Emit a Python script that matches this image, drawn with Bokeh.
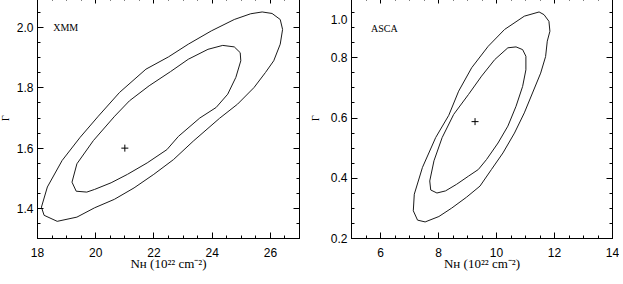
import numpy as np
from bokeh.plotting import figure
from bokeh.layouts import row
from bokeh.models import FixedTicker, LinearAxis, PrintfTickFormatter, Range1d
from bokeh.core.properties import value
from bokeh.embed import file_html
from bokeh.resources import INLINE

# ---------------- data ----------------
# XMM panel: N_H (1e22 cm^-2) vs photon index Gamma
xmm_outer_nh = [18.135, 18.339, 18.846, 19.466, 20.089, 20.820, 21.724, 22.502, 23.179, 23.968,
                24.760, 25.322, 25.718, 26.057, 26.338, 26.419, 26.338, 26.115, 25.830, 25.437,
                24.872, 24.253, 23.349, 22.672, 21.995, 21.318, 20.640, 19.963, 19.354, 18.677,
                18.227]
xmm_outer_g = [1.404, 1.471, 1.559, 1.636, 1.706, 1.785, 1.862, 1.903, 1.945, 1.989,
               2.027, 2.046, 2.052, 2.047, 2.027, 1.994, 1.945, 1.890, 1.851, 1.801,
               1.746, 1.699, 1.623, 1.562, 1.513, 1.468, 1.430, 1.402, 1.371, 1.357,
               1.377]
xmm_inner_nh = [19.185, 19.354, 19.919, 20.651, 21.158, 21.835, 22.570, 23.179, 23.856, 24.364,
                24.760, 24.963, 24.984, 24.814, 24.534, 24.137, 23.575, 22.841, 22.445, 21.768,
                21.091, 20.529, 19.963, 19.693, 19.330]
xmm_inner_g = [1.487, 1.548, 1.625, 1.706, 1.757, 1.807, 1.854, 1.895, 1.928, 1.941,
               1.936, 1.917, 1.890, 1.835, 1.779, 1.735, 1.700, 1.639, 1.595, 1.551,
               1.513, 1.485, 1.463, 1.454, 1.457]
xmm_best_nh = [21.0]
xmm_best_g = [1.60]

# ASCA panel
asca_outer_nh = [7.131, 7.165, 7.447, 7.902, 8.354, 8.694, 9.145, 9.713, 10.280, 10.959,
                 11.469, 11.639, 11.808, 11.842, 11.751, 11.693, 11.523, 11.241, 10.959, 10.620,
                 10.222, 9.825, 9.431, 8.965, 8.456, 8.014, 7.539, 7.277]
asca_outer_g = [0.292, 0.347, 0.436, 0.535, 0.609, 0.689, 0.767, 0.838, 0.894, 0.938,
                0.952, 0.943, 0.921, 0.888, 0.855, 0.804, 0.749, 0.683, 0.617, 0.550,
                0.484, 0.429, 0.374, 0.337, 0.301, 0.273, 0.255, 0.261]
asca_inner_nh = [7.732, 7.698, 7.844, 8.126, 8.524, 9.033, 9.485, 9.940, 10.392, 10.674,
                 10.901, 11.014, 11.014, 10.901, 10.674, 10.392, 10.052, 9.655, 9.373, 9.033,
                 8.626, 8.242, 7.946]
asca_inner_g = [0.361, 0.391, 0.458, 0.535, 0.612, 0.678, 0.739, 0.794, 0.833, 0.836,
                0.827, 0.805, 0.760, 0.705, 0.639, 0.573, 0.517, 0.462, 0.429, 0.407,
                0.380, 0.358, 0.351]
asca_best_nh = [9.26]
asca_best_g = [0.588]

# axes
xmm_xticks = [18, 20, 22, 24, 26]
xmm_yticks = [1.4, 1.6, 1.8, 2.0]
asca_xticks = [6, 8, 10, 12, 14]
asca_yticks = [0.2, 0.4, 0.6, 0.8, 1.0]
xmm_xrange = (18, 27)
xmm_yrange = (1.3, 2.1)
asca_xrange = (5, 14)
asca_yrange = (0.2, 1.0)
xmm_name = "XMM"
asca_name = "ASCA"
x_label = "N\u029C (10\u00b2\u00b2 cm\u207b\u00b2)"
y_label = "\u0393"

LINE = "#1a1a1a"
TICK_FONT = "Liberation Sans"
LABEL_FONT = "Liberation Serif"


def closed(a):
    return list(a) + [a[0]]


def panel(xr, yr, xt, yt, xminor, yminor, min_left, ylab_standoff, width):
    p = figure(width=width, height=284, output_backend="svg", toolbar_location=None,
               x_range=Range1d(*xr), y_range=Range1d(*yr),
               min_border_left=min_left, min_border_right=7,
               min_border_top=1, min_border_bottom=42)
    p.grid.visible = False
    p.outline_line_color = "black"
    p.outline_line_width = 1
    p.background_fill_color = "white"
    p.border_fill_color = "white"

    xtick = FixedTicker(ticks=xt, minor_ticks=xminor)
    ytick = FixedTicker(ticks=yt, minor_ticks=yminor)

    for ax, tk in ((p.xaxis[0], xtick), (p.yaxis[0], ytick)):
        ax.ticker = tk
        ax.major_tick_in = 6
        ax.major_tick_out = 0
        ax.minor_tick_in = 3
        ax.minor_tick_out = 0
        ax.major_tick_line_color = "black"
        ax.minor_tick_line_color = "black"
        ax.axis_line_color = "black"
        ax.major_label_text_font = TICK_FONT
        ax.major_label_text_font_size = "12px"
        ax.major_label_text_color = "black"
        ax.axis_label_text_font = LABEL_FONT
        ax.axis_label_text_font_style = "normal"
        ax.axis_label_text_color = "black"

    p.xaxis[0].formatter = PrintfTickFormatter(format="%d")
    p.yaxis[0].formatter = PrintfTickFormatter(format="%.1f")
    p.xaxis[0].major_label_standoff = 9
    p.xaxis[0].axis_label = x_label
    p.xaxis[0].axis_label_text_font_size = "13px"
    p.xaxis[0].axis_label_standoff = -4
    p.yaxis[0].major_label_standoff = 4
    p.yaxis[0].axis_label = y_label
    p.yaxis[0].axis_label_text_font_size = "10px"
    p.yaxis[0].axis_label_standoff = ylab_standoff

    for loc, tk in (("above", xtick), ("right", ytick)):
        a = LinearAxis(ticker=tk, major_label_text_font_size="0px", major_label_standoff=0,
                       major_tick_in=6, major_tick_out=0, minor_tick_in=3, minor_tick_out=0,
                       axis_line_color="black", major_tick_line_color="black",
                       minor_tick_line_color="black")
        a.major_label_overrides = {t: "" for t in tk.ticks}
        p.add_layout(a, loc)
    return p


# ---------------- XMM ----------------
p1 = panel(xmm_xrange, xmm_yrange, xmm_xticks, xmm_yticks,
           list(np.arange(18, 27.01, 0.5)), list(np.arange(1.3, 2.101, 0.05)),
           37, 3, 310)
p1.line(closed(xmm_outer_nh), closed(xmm_outer_g), line_color=LINE, line_width=1)
p1.line(closed(xmm_inner_nh), closed(xmm_inner_g), line_color=LINE, line_width=1)
p1.scatter(xmm_best_nh, xmm_best_g, marker="cross", size=7, line_color="black", line_width=1)
p1.text(x=[18.54], y=[2.0], text=[xmm_name], text_font=value(LABEL_FONT),
        text_font_size="10px", text_baseline="middle", text_align="left", text_color="black")

# ---------------- ASCA ----------------
p2 = panel(asca_xrange, asca_yrange, asca_xticks, asca_yticks,
           list(np.arange(5, 14.01, 0.5)), list(np.arange(0.2, 1.001, 0.05)),
           41, 7, 313)
p2.line(closed(asca_outer_nh), closed(asca_outer_g), line_color=LINE, line_width=1)
p2.line(closed(asca_inner_nh), closed(asca_inner_g), line_color=LINE, line_width=1)
p2.scatter(asca_best_nh, asca_best_g, marker="cross", size=7, line_color="black", line_width=1)
p2.text(x=[5.67], y=[0.896], text=[asca_name], text_font=value(LABEL_FONT),
        text_font_size="10px", text_baseline="middle", text_align="left", text_color="black")

# the top "1.0" tick label is pushed half a line down so it stays inside the picture
top_tick = asca_yticks[-1]
p2.yaxis[0].major_label_overrides = {top_tick: "\n%.1f" % top_tick}

layout = row(p1, p2, margin=(-4, 0, 0, -4))

open("out.html", "w").write(file_html(layout, INLINE, title="contours"))
